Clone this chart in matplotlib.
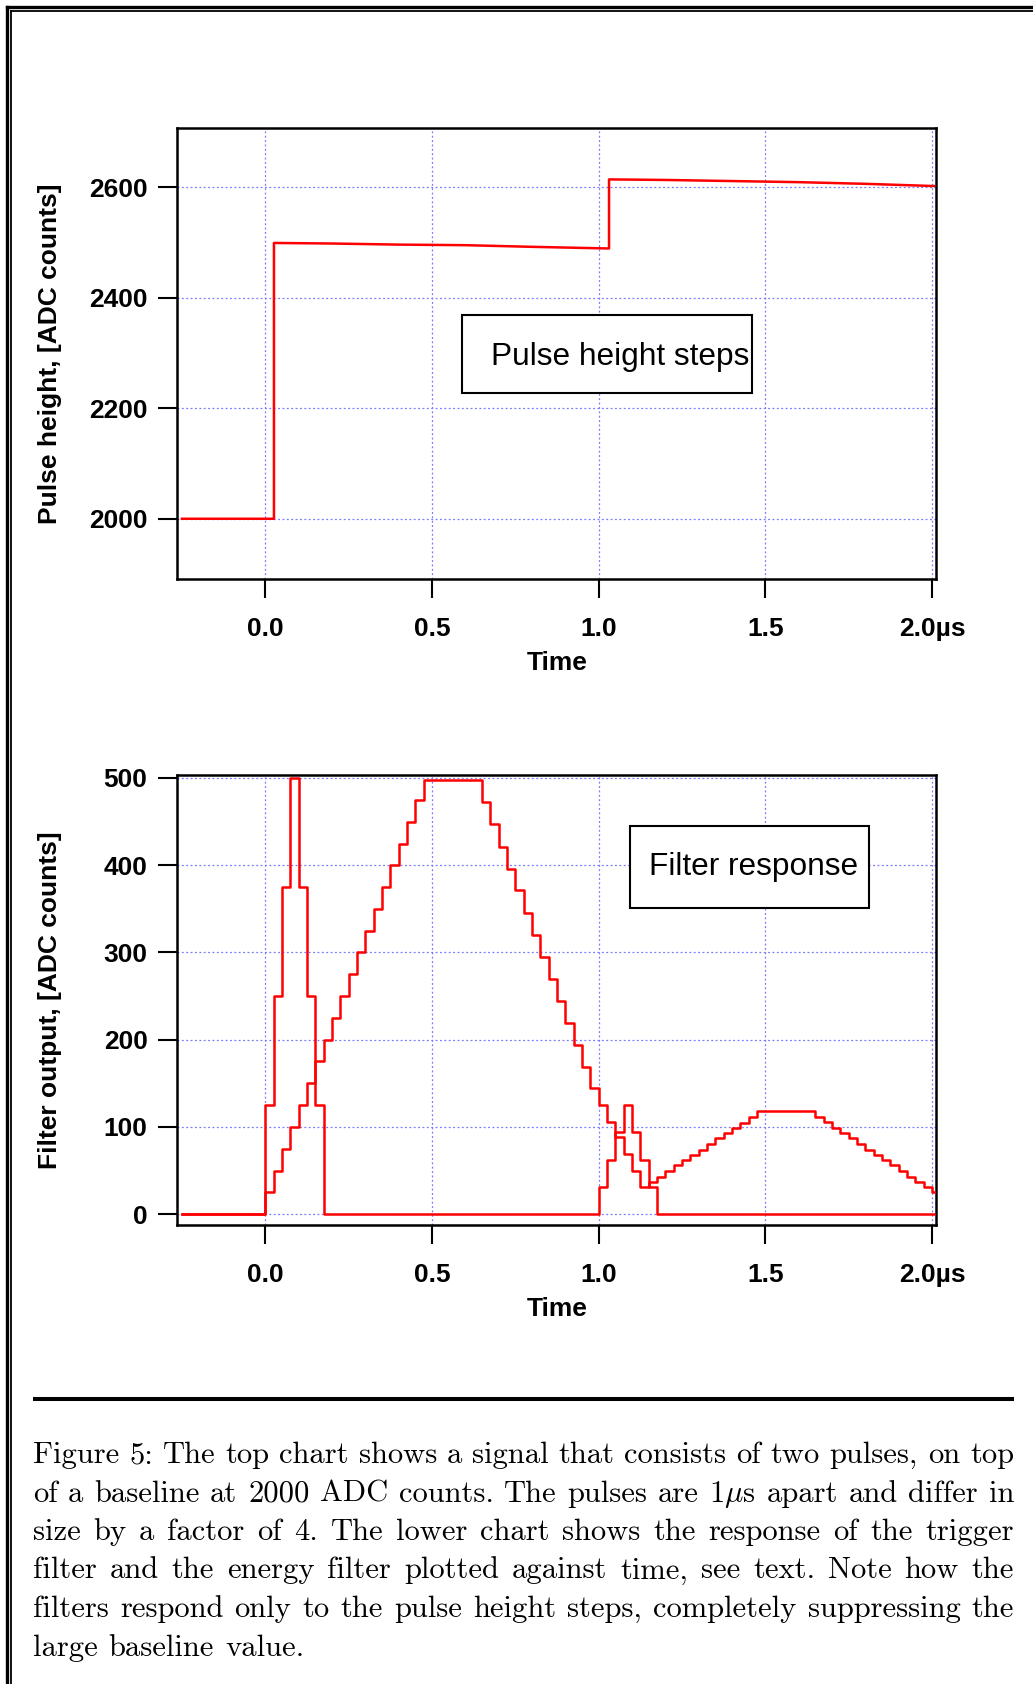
import numpy as np
import matplotlib
matplotlib.use("Agg")
import matplotlib.pyplot as plt
from matplotlib.lines import Line2D
from matplotlib.patches import Rectangle

plt.rcParams["font.family"] = ["Liberation Sans", "DejaVu Sans"]
plt.rcParams["font.weight"] = "bold"
plt.rcParams["axes.labelweight"] = "bold"
plt.rcParams["mathtext.fontset"] = "cm"

# top chart: raw signal, time in us, ADC counts (breakpoints of the trace)
signal_t = [-0.25, 0.026, 0.026, 0.2, 0.4, 0.6, 0.8, 1.031, 1.031, 1.2, 1.4, 1.6, 1.8, 2.005]
signal_v = [2000, 2000, 2499, 2498, 2496, 2495, 2492, 2489, 2614, 2613, 2611, 2609, 2606, 2602]

# lower chart: trigger filter (value holds from each time to the next)
trigger_t = [-0.25, 0.0, 0.025, 0.05, 0.075, 0.1, 0.125, 0.15, 0.175,
             1.0, 1.025, 1.05, 1.075, 1.1, 1.125, 1.15, 1.175, 2.005]
trigger_v = [0, 125, 250, 375, 500, 375, 250, 125, 0,
             31, 62, 94, 125, 94, 62, 31, 0, 0]

# energy filter, one value per 25 ns sample starting at t = 0
energy_t0 = 0.0
energy_dt = 0.025
energy_v = [25, 50, 75, 100, 125, 150, 175, 200, 225, 250,
            275, 300, 325, 350, 375, 400, 424, 449, 474, 498,
            498, 498, 498, 497, 497, 497,
            472, 447, 421, 396, 371, 345, 320, 295, 270, 244,
            219, 194, 169, 145, 125,
            106, 88, 69, 50, 31, 37, 43, 50, 56, 62,
            68, 74, 81, 87, 93, 99, 105, 111, 118,
            118, 118, 118, 118, 118, 118,
            111, 106, 99, 93, 87, 81, 74, 68, 62, 56,
            49, 43, 37, 31, 25]
energy_start, energy_end = -0.25, 2.005

x_ticks = [0.0, 0.5, 1.0, 1.5, 2.0]
x_ticklabels = ["0.0", "0.5", "1.0", "1.5", "2.0µs"]
top_yticks = [2000, 2200, 2400, 2600]
low_yticks = [0, 100, 200, 300, 400, 500]

caption_lines = [
    "Figure 5: The top chart shows a signal that consists of two pulses, on top",
    "of a baseline at 2000 ADC counts. The pulses are 1$\\mu$s apart and differ in",
    "size by a factor of 4. The lower chart shows the response of the trigger",
    "filter and the energy filter plotted against time, see text. Note how the",
    "filters respond only to the pulse height steps, completely suppressing the",
    "large baseline value.",
]

W, H = 1033, 1684
fig = plt.figure(figsize=(W / 100, H / 100), dpi=100)
red = "#ff0000"


def style_axes(ax, ylim, yticks, ylabel):
    ax.set_xlim(-0.2648, 2.0117)
    ax.set_ylim(*ylim)
    ax.set_xticks(x_ticks)
    ax.set_xticklabels(x_ticklabels)
    ax.set_yticks(yticks)
    ax.grid(True, color="#7878ff", lw=0.9, ls=(0, (1.5, 2.0)))
    ax.set_axisbelow(True)
    ax.tick_params(direction="out", length=13.7, width=1.5, labelsize=19)
    ax.tick_params(axis="y", pad=7.5)
    ax.tick_params(axis="x", pad=14)
    for s in ax.spines.values():
        s.set_linewidth(1.8)
    ax.set_ylabel(ylabel, fontsize=19, fontweight="bold", va="center")
    ax.yaxis.set_label_coords(-0.1673, 0.5)
    ax.set_xlabel("Time", fontsize=19, fontweight="bold", va="center")
    ax.xaxis.set_label_coords(0.5007, -0.186)


def add_box(ax, x0, y0, w, h, text, tx, ty, ha):
    ax.add_patch(Rectangle((x0, y0), w, h, transform=ax.transAxes,
                           facecolor="white", edgecolor="black", lw=1.5, zorder=4))
    ax.text(tx, ty, text, transform=ax.transAxes, ha=ha, va="center",
            fontsize=22.8, fontweight="normal", zorder=5)


# top chart
ax1 = fig.add_axes([177 / W, 1 - 579 / H, 759 / W, 451 / H])
ax1.plot(signal_t, signal_v, color=red, lw=1.8, zorder=3)
style_axes(ax1, (1891, 2707), top_yticks, "Pulse height, [ADC counts]")
add_box(ax1, 0.3755, 0.4124, 0.3821, 0.173, "Pulse height steps", 0.4137, 0.4918, "left")

# lower chart
ax2 = fig.add_axes([177 / W, 1 - 1225 / H, 759 / W, 450 / H])
e_t = [energy_start] + list(energy_t0 + energy_dt * np.arange(len(energy_v))) + [energy_end]
e_v = [0] + energy_v + [energy_v[-1]]
ax2.plot(e_t, e_v, color=red, lw=1.8, drawstyle="steps-post", zorder=3)
ax2.plot(trigger_t, trigger_v, color=red, lw=1.8, drawstyle="steps-post", zorder=3)
style_axes(ax2, (-12.3, 503.2), low_yticks, "Filter output, [ADC counts]")
add_box(ax2, 0.5968, 0.7044, 0.3149, 0.1823, "Filter response", 0.760, 0.7956, "center")

# page frame (double line at top and left)
for pos, lw in [(6.7, 2.4), (11.3, 1.3)]:
    fig.add_artist(Line2D([pos / W, pos / W], [1 - pos / H, 0], color="black", lw=lw,
                          solid_capstyle="projecting"))
    fig.add_artist(Line2D([pos / W, 1], [1 - pos / H, 1 - pos / H], color="black", lw=lw,
                          solid_capstyle="projecting"))

# rule above caption
fig.add_artist(Line2D([33 / W, 1014 / W], [1 - 1399 / H] * 2, color="black", lw=2.9,
                      solid_capstyle="butt"))

# justified caption
fig.canvas.draw()
renderer = fig.canvas.get_renderer()
cap_size = 22
left_px, right_px = 33, 1014
for i, line in enumerate(caption_lines):
    y = 1 - (1463 + 38.5 * i) / H
    words = line.split()
    texts = [fig.text(0, y, w, family="cmr10", fontsize=cap_size, fontweight="normal",
                      ha="left", va="baseline") for w in words]
    widths = [t.get_window_extent(renderer).width for t in texts]
    if i == len(caption_lines) - 1:
        gap = 0.36 * cap_size * 100 / 72
    else:
        gap = (right_px - left_px - sum(widths)) / (len(words) - 1)
    x = left_px
    for t, w in zip(texts, widths):
        t.set_x(x / W)
        x += w + gap

fig.savefig("out.png", dpi=100)
